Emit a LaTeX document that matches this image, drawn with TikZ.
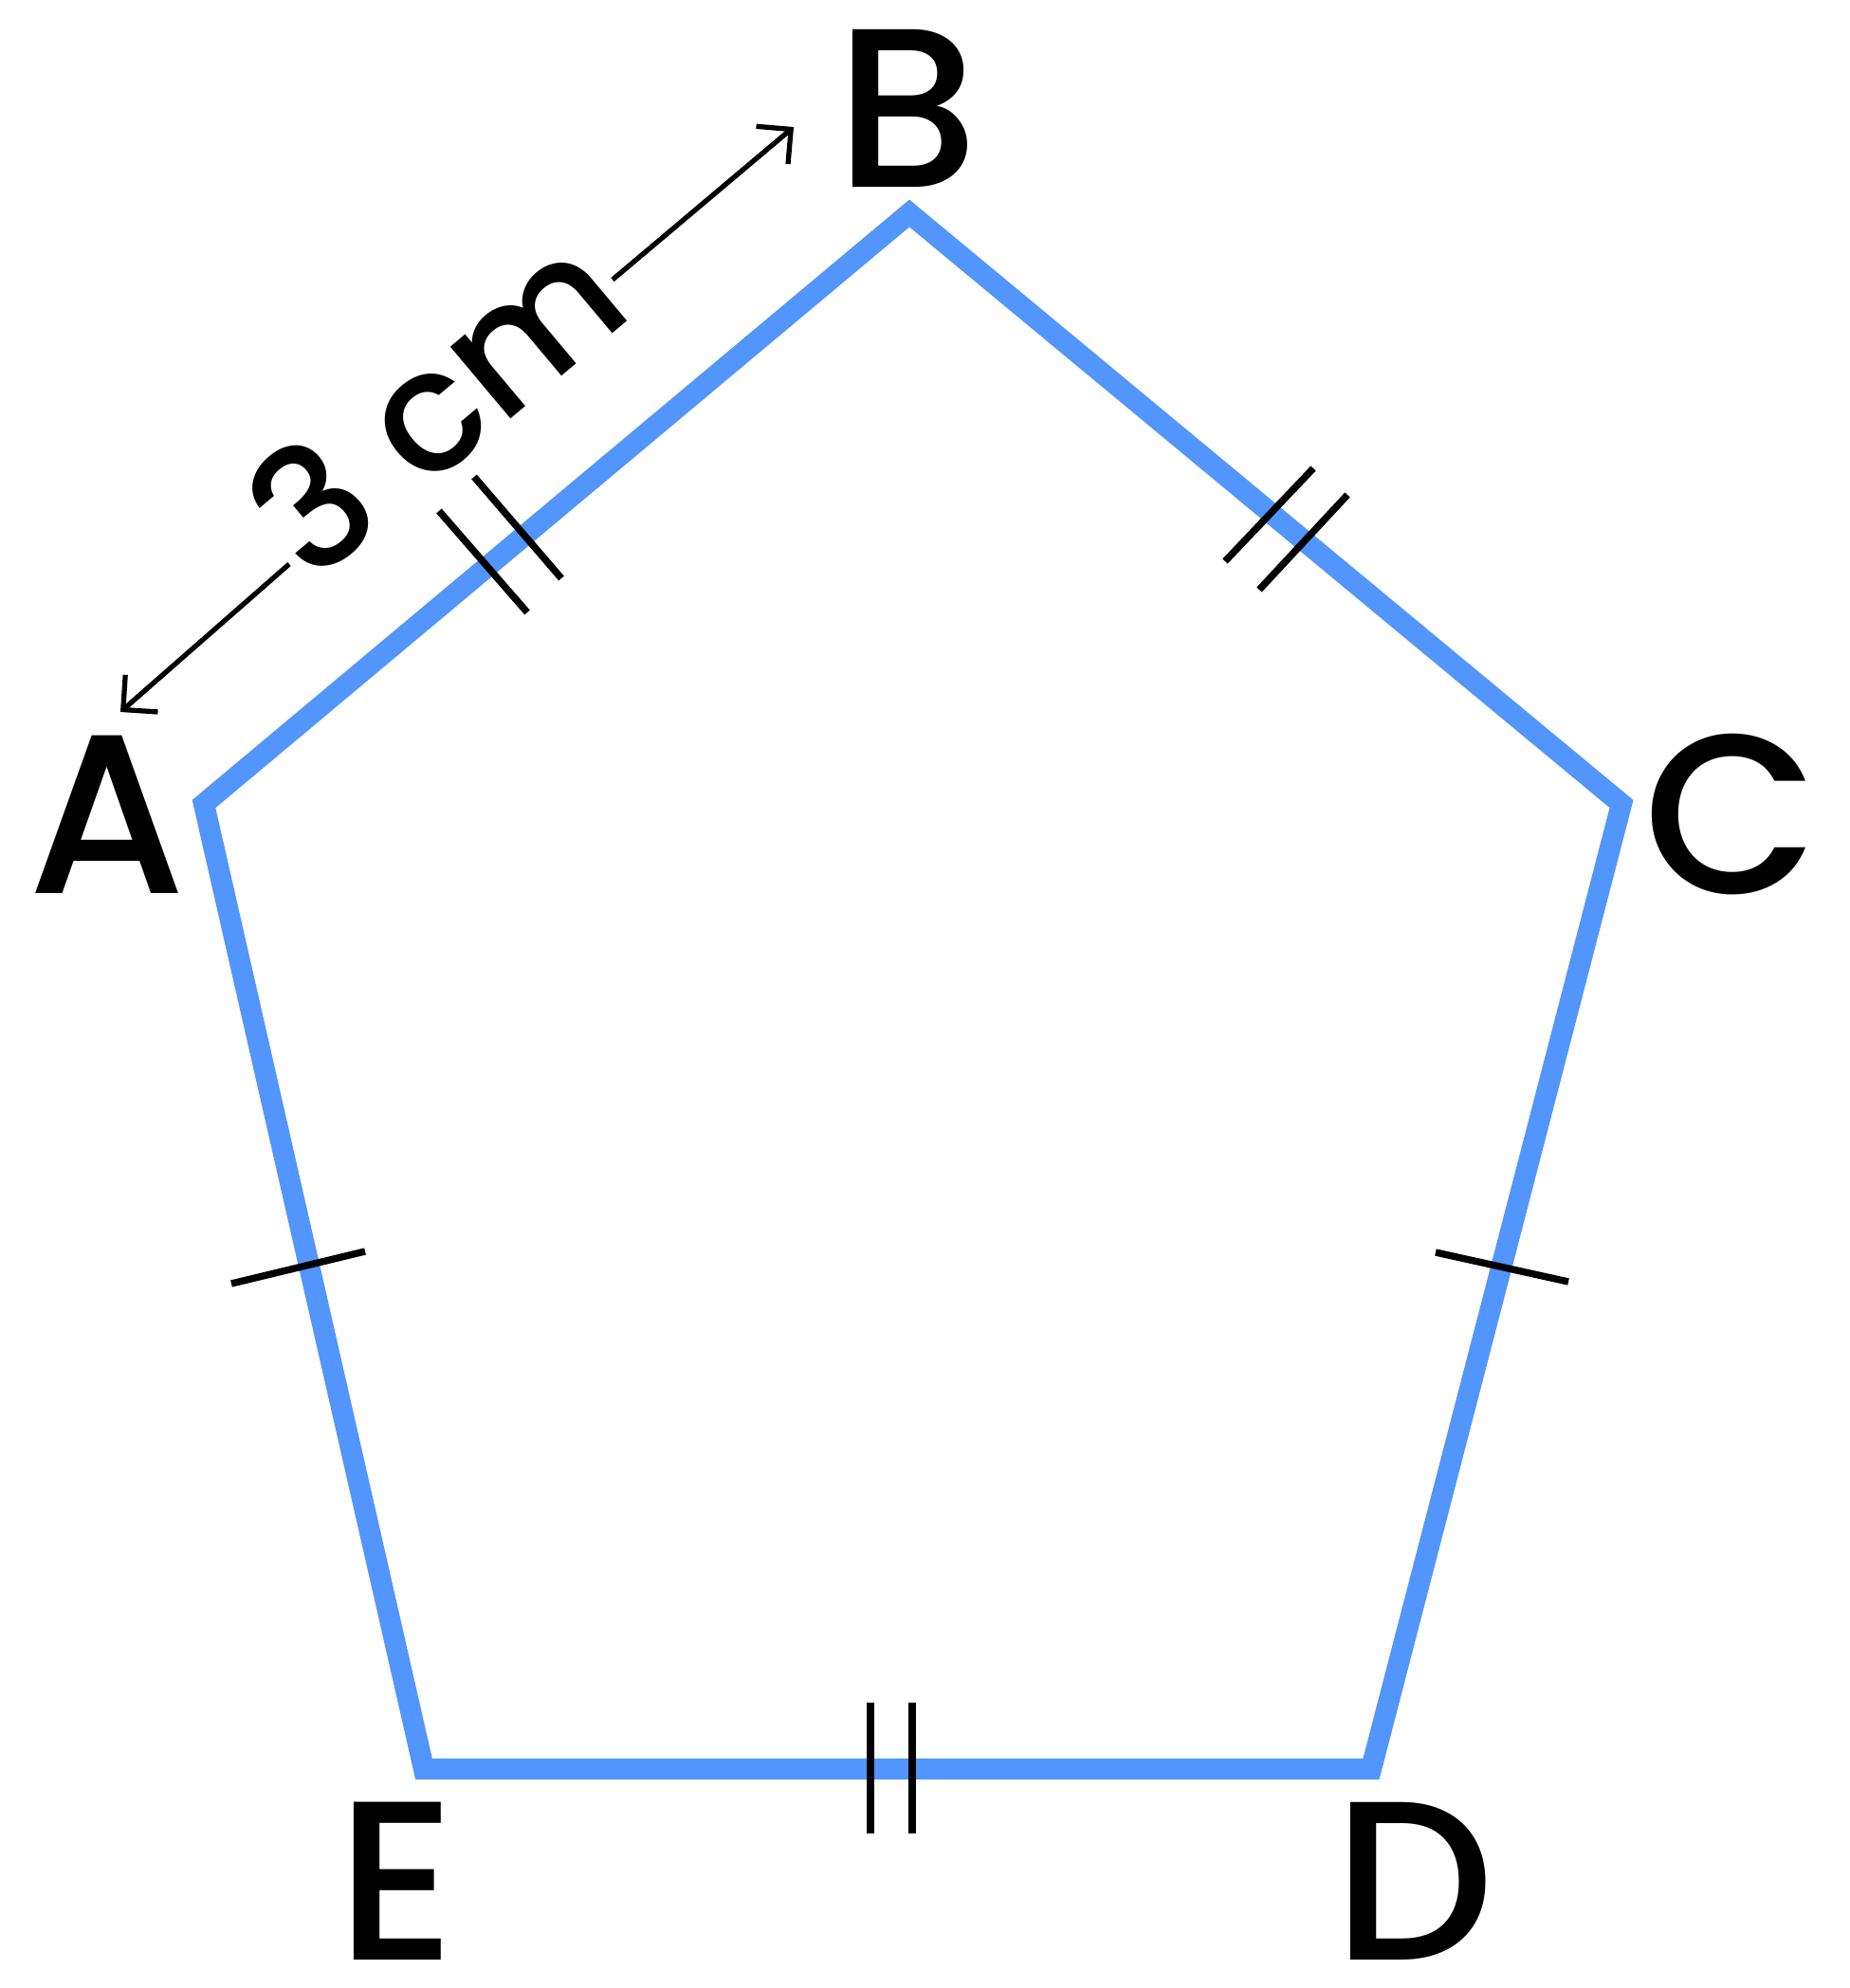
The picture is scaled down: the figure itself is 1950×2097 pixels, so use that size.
\documentclass[tikz,border=0pt]{standalone}
\usepackage{fontspec}
\setmainfont{Poppins Medium}
\usetikzlibrary{arrows.meta}
\definecolor{penta}{RGB}{82,149,252}
\begin{document}
\begin{tikzpicture}[x=0.01cm,y=-0.01cm,
  side/.style={draw=penta,line width=6.3pt,line join=miter},
  tick/.style={draw=black,line width=2.1pt},
  lbl/.style={font=\fontsize{68}{80}\selectfont,inner sep=0pt,anchor=base},
  dimtext/.style={font=\fontsize{51}{60}\selectfont,inner sep=0pt},
  dimarrow/.style={draw=black,line width=1.5pt,-{Straight Barb[length=7.4pt,width=14.8pt]}}]
\useasboundingbox (0,0) rectangle (1950,2097);
% vertices
\coordinate (A) at (215,848);
\coordinate (B) at (959,225);
\coordinate (C) at (1710,848);
\coordinate (D) at (1446,1866);
\coordinate (E) at (447,1866);
% pentagon
\draw[side] (A) -- (B) -- (C) -- (D) -- (E) -- cycle;
% labels
\node[lbl] (lA) at (113,942) {A};
\node[lbl] (lB) at (957,198) {B};
\node[lbl] (lC) at (1826,942) {C};
\node[lbl] (lD) at (1491,2067) {D};
\node[lbl] (lE) at (418,2067) {E};
% ticks AB
\coordinate (ab1s) at (463,539); \coordinate (ab1e) at (556,646);
\coordinate (ab2s) at (500,503); \coordinate (ab2e) at (592,610);
\draw[tick] (ab1s) -- (ab1e);
\draw[tick] (ab2s) -- (ab2e);
% ticks BC
\coordinate (bc1s) at (1292,592); \coordinate (bc1e) at (1385,494);
\coordinate (bc2s) at (1328,622); \coordinate (bc2e) at (1421,522);
\draw[tick] (bc1s) -- (bc1e);
\draw[tick] (bc2s) -- (bc2e);
% tick CD
\coordinate (cds) at (1514,1321); \coordinate (cde) at (1654,1352);
\draw[tick] (cds) -- (cde);
% tick EA
\coordinate (eas) at (244,1354); \coordinate (eae) at (385,1320);
\draw[tick] (eas) -- (eae);
% ticks ED
\coordinate (ed1s) at (918,1796); \coordinate (ed1e) at (918,1934);
\coordinate (ed2s) at (962,1796); \coordinate (ed2e) at (962,1934);
\draw[tick,line width=2.4pt] (ed1s) -- (ed1e);
\draw[tick,line width=2.4pt] (ed2s) -- (ed2e);
% dimension
\node[dimtext,rotate=40] (dim) at (458,424) {3 cm};
\coordinate (a1s) at (305,595); \coordinate (a1e) at (127,751);
\coordinate (a2s) at (646,295); \coordinate (a2e) at (837,134);
\draw[dimarrow] (a1s) -- (a1e);
\draw[dimarrow] (a2s) -- (a2e);
\end{tikzpicture}
\end{document}
